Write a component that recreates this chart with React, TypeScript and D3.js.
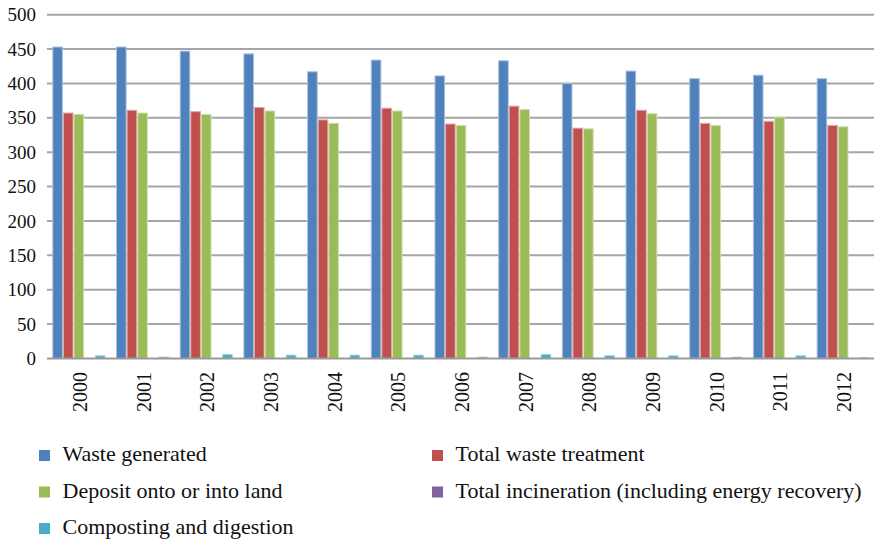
import React from "react";
import * as d3 from "d3";

// Annual waste statistics, 2000–2012
const years = ["2000", "2001", "2002", "2003", "2004", "2005", "2006", "2007", "2008", "2009", "2010", "2011", "2012"];
const wasteGenerated = [453, 453, 447, 443, 417, 434, 411, 433, 400, 418, 407, 412, 407];
const totalTreatment = [357, 361, 359, 365, 347, 364, 341, 367, 335, 361, 342, 345, 339];
const depositLand = [355, 357, 355, 360, 342, 360, 339, 362, 334, 356, 339, 351, 337];
const incineration = [0, 0, 0, 0, 0, 0, 0, 0, 0, 0, 0, 0, 0];
const composting = [4, 2, 6, 5, 5, 5, 2, 6, 4, 4, 2, 4, 1];
const yTicks = [0, 50, 100, 150, 200, 250, 300, 350, 400, 450, 500];

const seriesNames = [
  "Waste generated",
  "Total waste treatment",
  "Deposit onto or into land",
  "Total incineration (including energy recovery)",
  "Composting and digestion",
];
const seriesValues = [wasteGenerated, totalTreatment, depositLand, incineration, composting];
const colors = ["#4f81bd", "#c0504d", "#9bbb59", "#8064a2", "#4bacc6"];
const edgeColors = ["#a9c1e0", "#e0a8a6", "#cfe0ad", "#bfb2d1", "#a5d6e3"];

const W = 874;
const H = 543;
const left = 47;
const right = 875;
const top = 14.7;
const bottom = 358.5;
const font =
  "'Liberation Serif', 'DejaVu Serif', 'Noto Serif', Tinos, 'Times New Roman', Times, serif";

export default function App() {
  const x0 = d3.scaleBand<string>().domain(years).range([left, right]).padding(0);
  const bw = x0.bandwidth();
  const x1 = d3
    .scaleBand<string>()
    .domain(seriesNames)
    .range([bw / 12, (bw * 11) / 12])
    .padding(0);
  const y = d3.scaleLinear().domain([0, 500]).range([bottom, top]);

  const legend = [
    { i: 0, x: 39, yb: 461 },
    { i: 1, x: 432, yb: 461 },
    { i: 2, x: 39, yb: 497.5 },
    { i: 3, x: 432, yb: 497.5 },
    { i: 4, x: 39, yb: 534 },
  ];

  return (
    <svg
      width={W}
      height={H}
      style={{ position: "absolute", left: 0, top: 0, background: "#fff", fontFamily: font }}
    >
      {/* gridlines */}
      {yTicks.map((t) =>
        t === 0 ? null : (
          <line key={t} x1={left} x2={W} y1={y(t)} y2={y(t)} stroke="#a6a6a6" strokeWidth={2} />
        )
      )}
      {/* y tick labels */}
      {yTicks.map((t) => (
        <text key={t} x={36} y={y(t) + 6.6} textAnchor="end" fontSize={19} fill="#111">
          {t}
        </text>
      ))}
      {/* bars */}
      {years.map((yr, gi) => (
        <g key={yr} transform={`translate(${x0(yr)},0)`}>
          {seriesNames.map((s, si) => {
            const v = seriesValues[si][gi];
            if (v <= 0) return null;
            return (
              <rect
                key={s}
                x={x1(s)! + 0.5}
                y={y(v)}
                width={x1.bandwidth() - 1}
                height={bottom - y(v)}
                fill={colors[si]}
                stroke={edgeColors[si]}
                strokeWidth={1}
              />
            );
          })}
        </g>
      ))}
      {/* zero axis */}
      <line x1={left} x2={W} y1={bottom} y2={bottom} stroke="#999" strokeWidth={2} />
      {/* x labels */}
      {years.map((yr) => {
        const cx = x0(yr)! + bw / 2 + 1;
        return (
          <text
            key={yr}
            transform={`translate(${cx + 7},372) rotate(-90)`}
            textAnchor="end"
            fontSize={20}
            fill="#111"
          >
            {yr}
          </text>
        );
      })}
      {/* legend */}
      {legend.map((l) => (
        <g key={l.i}>
          <rect x={l.x} y={l.yb - 11} width={11} height={11} fill={colors[l.i]} />
          <text x={l.x + 23.5} y={l.yb} fontSize={22} fill="#111">
            {seriesNames[l.i]}
          </text>
        </g>
      ))}
    </svg>
  );
}
